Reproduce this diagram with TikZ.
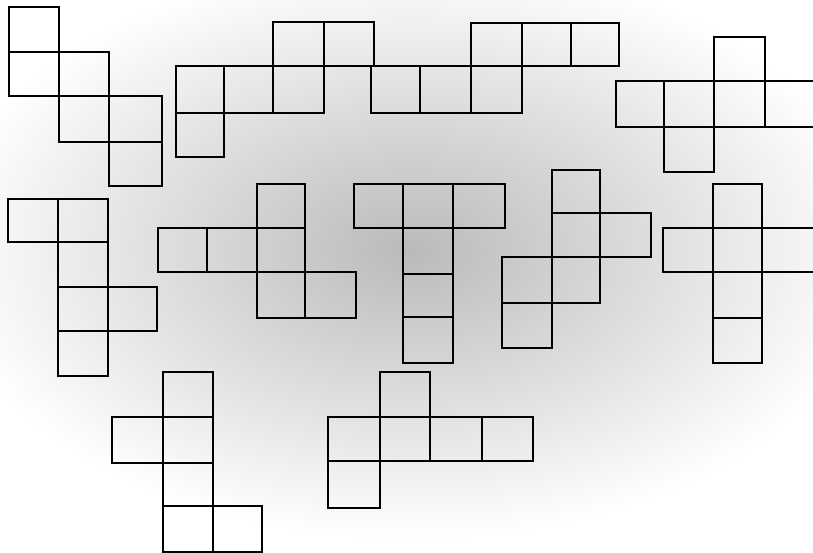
\documentclass[tikz,border=0pt]{standalone}
\begin{document}
\begin{tikzpicture}[x=1pt,y=-1pt,
  cellbox/.style={draw=black,line width=2.8pt,line join=miter}]
\useasboundingbox (0,0) rectangle (813,553);
\begin{scope}
  \clip (0,0) rectangle (813,553);
  \shade[inner color=black!27,outer color=white] (410,250) ellipse [x radius=470,y radius=290];
\end{scope}
\newcommand{\netsq}[4]{\draw[cellbox] (#1,#2) rectangle (#3,#4);}
% net 1 (staircase)
\netsq{9}{7}{59}{52}
\netsq{9}{52}{59}{96}
\netsq{59}{52}{109}{96}
\netsq{59}{96}{109}{142}
\netsq{109}{96}{162}{142}
\netsq{109}{142}{162}{186}
% net 2
\netsq{273}{22}{324}{66}
\netsq{324}{22}{374}{66}
\netsq{176}{66}{224}{113}
\netsq{224}{66}{273}{113}
\netsq{273}{66}{324}{113}
\netsq{176}{113}{224}{157}
% net 3
\netsq{471}{23}{522}{66}
\netsq{522}{23}{571}{66}
\netsq{571}{23}{619}{66}
\netsq{371}{66}{420}{113}
\netsq{420}{66}{471}{113}
\netsq{471}{66}{522}{113}
% net 4
\netsq{714}{37}{765}{81}
\netsq{616}{81}{664}{127}
\netsq{664}{81}{714}{127}
\netsq{714}{81}{765}{127}
\draw[cellbox] (813,81) -- (765,81) -- (765,127) -- (813,127);
\netsq{664}{127}{714}{172}
% net 5
\netsq{8}{199}{58}{242}
\netsq{58}{199}{108}{242}
\netsq{58}{242}{108}{287}
\netsq{58}{287}{108}{331}
\netsq{108}{287}{157}{331}
\netsq{58}{331}{108}{376}
% net 6
\netsq{257}{184}{305}{228}
\netsq{158}{228}{207}{272}
\netsq{207}{228}{257}{272}
\netsq{257}{228}{305}{272}
\netsq{257}{272}{305}{318}
\netsq{305}{272}{356}{318}
% net 7 (T)
\netsq{354}{184}{403}{228}
\netsq{403}{184}{453}{228}
\netsq{453}{184}{505}{228}
\netsq{403}{228}{453}{274}
\netsq{403}{274}{453}{317}
\netsq{403}{317}{453}{363}
% net 8
\netsq{552}{170}{600}{213}
\netsq{552}{213}{600}{257}
\netsq{600}{213}{651}{257}
\netsq{502}{257}{552}{303}
\netsq{552}{257}{600}{303}
\netsq{502}{303}{552}{348}
% net 9
\netsq{713}{184}{762}{228}
\netsq{663}{228}{713}{272}
\netsq{713}{228}{762}{272}
\draw[cellbox] (813,228) -- (762,228) -- (762,272) -- (813,272);
\netsq{713}{272}{762}{318}
\netsq{713}{318}{762}{363}
% net 10
\netsq{163}{372}{213}{417}
\netsq{112}{417}{163}{463}
\netsq{163}{417}{213}{463}
\netsq{163}{463}{213}{506}
\netsq{163}{506}{213}{552}
\netsq{213}{506}{262}{552}
% net 11
\netsq{380}{372}{430}{417}
\netsq{328}{417}{380}{461}
\netsq{380}{417}{430}{461}
\netsq{430}{417}{482}{461}
\netsq{482}{417}{533}{461}
\netsq{328}{461}{380}{508}
\end{tikzpicture}
\end{document}
